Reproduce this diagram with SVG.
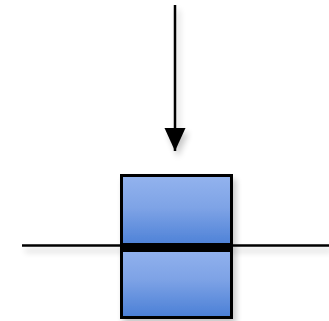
<svg xmlns="http://www.w3.org/2000/svg" width="329" height="321" viewBox="0 0 329 321">
  <defs>
    <linearGradient id="blueFill" x1="0" y1="0" x2="0" y2="1">
      <stop offset="0" stop-color="#93b3ee"/>
      <stop offset="0.45" stop-color="#7ea3e6"/>
      <stop offset="1" stop-color="#4a7fd6"/>
    </linearGradient>
    <filter id="softShadow" x="-20%" y="-20%" width="150%" height="160%">
      <feGaussianBlur in="SourceAlpha" stdDeviation="3"/>
      <feOffset dx="3" dy="5" result="blur"/>
      <feComponentTransfer><feFuncA type="linear" slope="0.22"/></feComponentTransfer>
      <feMerge><feMergeNode/><feMergeNode in="SourceGraphic"/></feMerge>
    </filter>
    <marker id="arrowHead" markerUnits="userSpaceOnUse" markerWidth="24" markerHeight="22" refX="23" refY="10.5" orient="auto">
      <path d="M0,0 L23,10.5 L0,21 Z" fill="#000"/>
    </marker>
    <style>
      .wire { stroke: #000; stroke-width: 2.5; fill: none; }
      .half { fill: url(#blueFill); stroke: #000; stroke-width: 3; }
    </style>
  </defs>

  <g id="connectors" filter="url(#softShadow)">
    <line class="wire" x1="22" y1="245.5" x2="329" y2="245.5"/>
    <line class="wire" x1="175" y1="5" x2="175" y2="151" marker-end="url(#arrowHead)"/>
  </g>

  <g id="block" filter="url(#softShadow)">
    <rect class="half" x="121.5" y="175.5" width="110" height="72"/>
    <rect class="half" x="121.5" y="247.5" width="110" height="70"/>
    <rect x="120" y="243" width="113" height="9" fill="#000"/>
  </g>
</svg>
